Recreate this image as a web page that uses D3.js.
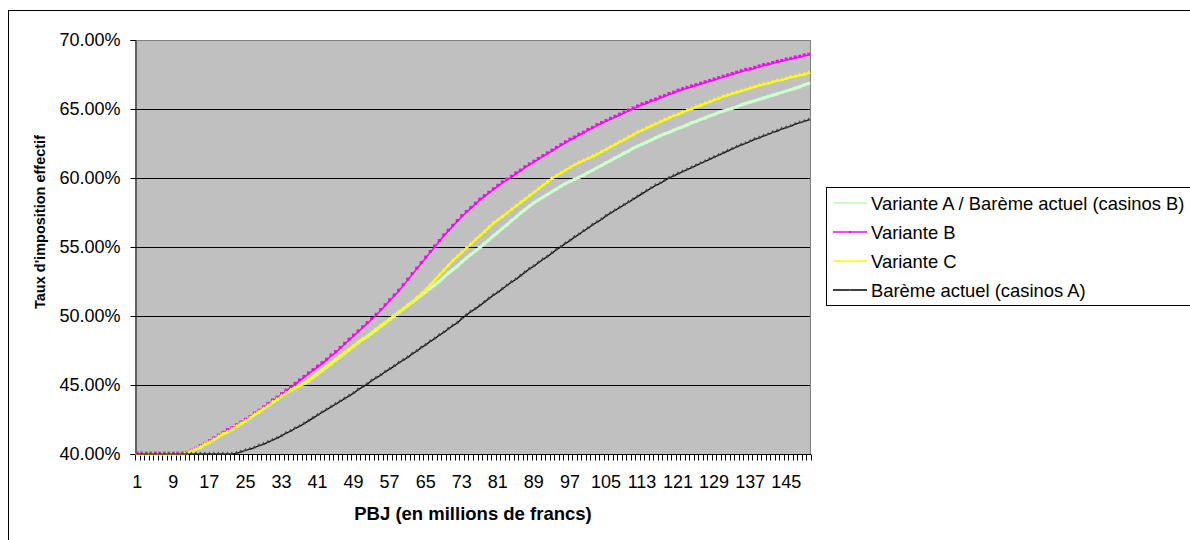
<!DOCTYPE html>
<html><head><meta charset="utf-8">
<script src="https://cdn.jsdelivr.net/npm/d3@7"></script>
<style>
body{margin:0;background:#fff;}
svg text{font-family:"Liberation Sans",Arial,sans-serif;fill:#000;}
</style></head>
<body><svg id="c" width="1190" height="540"></svg>
<script>
const categories = d3.range(1, 151);
const tickLabels = [1,9,17,25,33,41,49,57,65,73,81,89,97,105,113,121,129,137,145];
const yTicks = [40,45,50,55,60,65,70];

const varianteA = [
40,40,40,40,40,40,40,40,40,40,
40.00,40.05,40.20,40.35,40.50,40.70,40.85,41.05,41.25,41.45,
41.60,41.80,42.00,42.20,42.40,42.60,42.85,43.05,43.30,43.50,
43.75,43.95,44.20,44.40,44.60,44.80,44.95,45.10,45.30,45.55,
45.80,46.05,46.30,46.55,46.80,47.05,47.30,47.55,47.80,48.05,
48.30,48.50,48.75,49.00,49.25,49.50,49.75,50.00,50.25,50.50,
50.75,51.00,51.25,51.50,51.75,52.00,52.25,52.50,52.80,53.10,
53.35,53.60,53.90,54.20,54.45,54.70,54.95,55.25,55.50,55.80,
56.05,56.35,56.60,56.90,57.15,57.45,57.70,57.95,58.20,58.40,
58.60,58.80,59.00,59.20,59.40,59.60,59.75,59.90,60.05,60.20,
60.40,60.55,60.75,60.90,61.10,61.25,61.45,61.60,61.80,61.95,
62.15,62.30,62.45,62.60,62.75,62.90,63.05,63.20,63.30,63.45,
63.60,63.70,63.85,64.00,64.10,64.25,64.35,64.50,64.60,64.75,
64.85,64.95,65.05,65.15,65.30,65.40,65.50,65.60,65.70,65.80,
65.90,66.00,66.10,66.20,66.30,66.40,66.50,66.60,66.75,66.85];

const varianteB = [
40,40,40,40,40,40,40,40,40,40,
40.00,40.05,40.20,40.35,40.55,40.70,40.90,41.10,41.30,41.50,
41.70,41.85,42.05,42.25,42.45,42.65,42.90,43.10,43.35,43.60,
43.85,44.05,44.30,44.55,44.80,45.05,45.30,45.55,45.80,46.05,
46.30,46.55,46.80,47.10,47.35,47.65,47.95,48.25,48.55,48.85,
49.15,49.45,49.75,50.05,50.40,50.75,51.10,51.45,51.80,52.20,
52.60,53.00,53.40,53.80,54.20,54.60,55.00,55.40,55.80,56.15,
56.50,56.85,57.20,57.50,57.80,58.10,58.40,58.65,58.90,59.15,
59.40,59.65,59.85,60.05,60.30,60.50,60.75,60.95,61.15,61.35,
61.55,61.75,61.95,62.15,62.35,62.55,62.75,62.90,63.10,63.25,
63.45,63.60,63.80,63.95,64.10,64.25,64.40,64.55,64.70,64.85,
65.00,65.15,65.30,65.40,65.55,65.65,65.80,65.90,66.05,66.15,
66.30,66.40,66.50,66.60,66.70,66.80,66.90,67.00,67.10,67.20,
67.30,67.40,67.50,67.60,67.70,67.80,67.85,67.95,68.05,68.15,
68.20,68.30,68.40,68.45,68.55,68.60,68.70,68.75,68.85,68.90];

const varianteC = [
40,40,40,40,40,40,40,40,40,40,
40.00,40.05,40.20,40.35,40.50,40.70,40.85,41.05,41.25,41.45,
41.60,41.80,42.00,42.20,42.40,42.60,42.85,43.05,43.30,43.50,
43.75,43.95,44.20,44.40,44.60,44.80,44.95,45.10,45.30,45.55,
45.80,46.05,46.30,46.55,46.80,47.05,47.30,47.55,47.80,48.05,
48.30,48.50,48.75,49.00,49.25,49.50,49.75,50.00,50.25,50.50,
50.75,51.00,51.30,51.60,51.90,52.25,52.60,52.95,53.30,53.65,
54.00,54.30,54.60,54.90,55.20,55.50,55.80,56.10,56.40,56.70,
56.95,57.20,57.45,57.70,57.95,58.20,58.45,58.70,58.95,59.20,
59.45,59.70,59.95,60.15,60.35,60.55,60.75,60.95,61.10,61.25,
61.40,61.55,61.70,61.90,62.05,62.25,62.40,62.60,62.75,62.95,
63.10,63.30,63.45,63.60,63.75,63.90,64.05,64.20,64.35,64.50,
64.60,64.75,64.90,65.00,65.15,65.25,65.40,65.50,65.65,65.75,
65.90,66.00,66.10,66.20,66.30,66.40,66.50,66.60,66.70,66.80,
66.85,66.95,67.05,67.10,67.20,67.30,67.35,67.45,67.50,67.60];

const baremeA = [
40,40,40,40,40,40,40,40,40,40,
40,40,40,40,40,40,40,40,40,40,
40.00,40.00,40.05,40.15,40.25,40.35,40.45,40.60,40.70,40.85,
41.00,41.15,41.30,41.50,41.65,41.85,42.00,42.20,42.40,42.60,
42.80,43.00,43.20,43.40,43.60,43.80,44.00,44.20,44.40,44.65,
44.85,45.05,45.30,45.50,45.70,45.95,46.15,46.35,46.60,46.80,
47.00,47.25,47.45,47.70,47.90,48.15,48.35,48.60,48.80,49.05,
49.30,49.50,49.80,50.05,50.30,50.50,50.75,51.00,51.25,51.50,
51.70,51.95,52.20,52.45,52.65,52.90,53.15,53.40,53.60,53.85,
54.10,54.30,54.55,54.80,55.00,55.25,55.45,55.70,55.90,56.15,
56.35,56.60,56.80,57.00,57.25,57.45,57.65,57.85,58.05,58.25,
58.45,58.65,58.85,59.05,59.25,59.45,59.60,59.80,60.00,60.15,
60.30,60.45,60.60,60.75,60.90,61.05,61.20,61.35,61.50,61.65,
61.80,61.95,62.10,62.25,62.40,62.50,62.65,62.80,62.90,63.05,
63.15,63.30,63.40,63.55,63.65,63.75,63.90,64.00,64.10,64.20];

const seriesNames = ["Variante A / Barème actuel (casinos B)","Variante B","Variante C","Barème actuel (casinos A)"];
const seriesColors = ["#ccffcc","#ff00ff","#ffff00","#000000"];
const seriesValues = [varianteA, varianteB, varianteC, baremeA];

const svg = d3.select("#c");
svg.append("rect").attr("x",8.5).attr("y",10.5).attr("width",1300).attr("height",700)
  .attr("fill","#fff").attr("stroke","#000").attr("stroke-width",1);

const L=135, R=811, T=40, B=454;
const x = d3.scaleBand().domain(categories).range([L,R]).padding(0);
const y = d3.scaleLinear().domain([40,70]).range([B,T]);
const cx = d => x(d) + x.bandwidth()/2;

svg.append("rect").attr("x",L).attr("y",T).attr("width",R-L).attr("height",B-T).attr("fill","#c0c0c0");
svg.append("g").selectAll("line").data(yTicks.filter(v=>v>40&&v<70)).join("line")
  .attr("x1",L).attr("x2",R).attr("y1",d=>Math.round(y(d))+0.5).attr("y2",d=>Math.round(y(d))+0.5)
  .attr("stroke","#000").attr("stroke-width",1);
svg.append("path").attr("d",`M${L},${T+0.5}H${R-0.5}V${B}`).attr("fill","none").attr("stroke","#808080");

const yAxis = d3.axisLeft(y).tickValues(yTicks).tickSize(5).tickPadding(10)
  .tickFormat(d=>d.toFixed(2)+"%");
const gy = svg.append("g").attr("transform",`translate(${L+0.5},0)`).call(yAxis);
gy.select(".domain").attr("stroke","#000");
gy.selectAll("text").style("font-size","18px");

const gx = svg.append("g").attr("transform",`translate(0,${B+0.5})`);
gx.append("line").attr("x1",L).attr("x2",R).attr("stroke","#000");
const bounds = categories.map(c=>x(c)).concat([R]);
gx.selectAll("line.t").data(bounds).join("line").attr("class","t")
  .attr("x1",d=>Math.round(d)+0.5).attr("x2",d=>Math.round(d)+0.5).attr("y1",0).attr("y2",6)
  .attr("stroke","#000");
gx.selectAll("text").data(tickLabels).join("text")
  .attr("x",d=>cx(d)).attr("y",33).attr("text-anchor","middle").style("font-size","18px").text(d=>d);

svg.append("text").attr("x",473).attr("y",520).attr("text-anchor","middle")
  .style("font-size","18.5px").style("font-weight","bold").text("PBJ (en millions de francs)");
svg.append("text").attr("transform","translate(45,222) rotate(-90)").attr("text-anchor","middle")
  .style("font-size","14.5px").style("font-weight","bold").text("Taux d'imposition effectif");

const line = d3.line().x((d,i)=>cx(categories[i])).y(d=>y(d));
const widths = [3,1.5,2,1.2];
seriesValues.forEach((vals,k)=>{
  const g = svg.append("g");
  g.append("path").datum(vals).attr("d",line).attr("fill","none")
    .attr("stroke",seriesColors[k]).attr("stroke-width",widths[k]);
  const mk = g.selectAll("path.m").data(vals).join("path").attr("class","m");
  if(k===1){
    mk.attr("d",(d,i)=>`M${cx(categories[i])-1.5},${y(d)-2.5}h3v3h-3z`).attr("fill","#ff00ff");
  } else if(k===2){
    mk.attr("d",(d,i)=>{const X=cx(categories[i]),Y=y(d);return `M${X-2},${Y+1}L${X},${Y-3}L${X+2},${Y+1}Z`;}).attr("fill","#ffff00");
  } else if(k===3){
    mk.attr("d",(d,i)=>{const X=cx(categories[i]),Y=y(d);return `M${X-2},${Y+0.5}L${X},${Y-2.5}L${X+2},${Y+0.5}Z`;}).attr("fill","#444");
  } else {
    mk.attr("d",(d,i)=>`M${cx(categories[i])-1.5},${y(d)-1.5}h3v3h-3z`).attr("fill","#ccffcc");
  }
});

const lg = svg.append("g");
lg.append("rect").attr("x",826.5).attr("y",187.5).attr("width",420).attr("height",118)
  .attr("fill","#fff").attr("stroke","#000");
const rowsY = [203,232,261,290];
seriesNames.forEach((n,k)=>{
  lg.append("line").attr("x1",833).attr("x2",867).attr("y1",rowsY[k]).attr("y2",rowsY[k])
    .attr("stroke",seriesColors[k]).attr("stroke-width",k===0?2:1.5);
  lg.append("rect").attr("x",849).attr("y",rowsY[k]-1).attr("width",2).attr("height",2)
    .attr("fill",k===3?"#555":seriesColors[k]);
  lg.append("text").attr("x",871).attr("y",rowsY[k]+6.5).style("font-size","18.4px").text(n);
});
</script></body></html>
